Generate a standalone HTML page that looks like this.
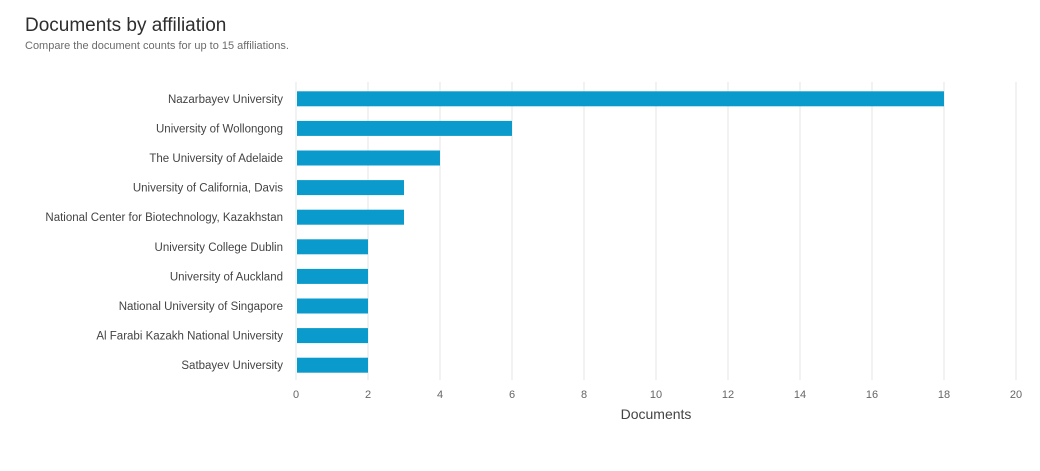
<!DOCTYPE html>
<html><head><meta charset="utf-8"><style>
body{margin:0;background:#fff;width:1040px;height:466px;overflow:hidden;font-family:"Liberation Sans",sans-serif}
</style></head><body>
<svg width="1040" height="466">
<text x="25" y="31" font-size="19" fill="#2e2e2e">Documents by affiliation</text>
<text x="25" y="49" font-size="11" fill="#6b6b6b">Compare the document counts for up to 15 affiliations.</text>
<g id="grid"></g><g id="bars"></g><g id="labels"></g><g id="ticks"></g>
<text x="656" y="419" font-size="14" fill="#444" text-anchor="middle">Documents</text>
</svg>
<script>
const categories=["Nazarbayev University","University of Wollongong","The University of Adelaide","University of California, Davis","National Center for Biotechnology, Kazakhstan","University College Dublin","University of Auckland","National University of Singapore","Al Farabi Kazakh National University","Satbayev University"];
const values=[18,6,4,3,3,2,2,2,2,2];
const tickLabels=[0,2,4,6,8,10,12,14,16,18,20];
const NS="http://www.w3.org/2000/svg";
const x0=296,x1=1016,xmax=20,yTop=84,step=29.6,bh=15;
const xs=v=>x0+(x1-x0)*v/xmax;
const yc=i=>yTop+step*(i+0.5);
function mk(t,a,p){const e=document.createElementNS(NS,t);for(const k in a)e.setAttribute(k,a[k]);document.getElementById(p).appendChild(e);return e;}
tickLabels.forEach(t=>{
 const l=mk("line",{x1:xs(t),x2:xs(t),y1:82,y2:380,stroke:"#e6e6e6","stroke-width":1},"grid");
 
 
 const tx=mk("text",{x:xs(t),y:398,"font-size":11,fill:"#666","text-anchor":"middle"},"ticks");
 tx.textContent=t;
 
 
});
categories.forEach((c,i)=>{
 const r=mk("rect",{x:x0+1,y:yc(i)-bh/2,width:xs(values[i])-x0-1,height:bh,fill:"#0a9acb"},"bars");
 
 
 const t=mk("text",{x:283,y:yc(i)+4,"font-size":11.5,fill:"#444","text-anchor":"end"},"labels");
 t.textContent=c;
 
 
});
</script>
</body></html>
